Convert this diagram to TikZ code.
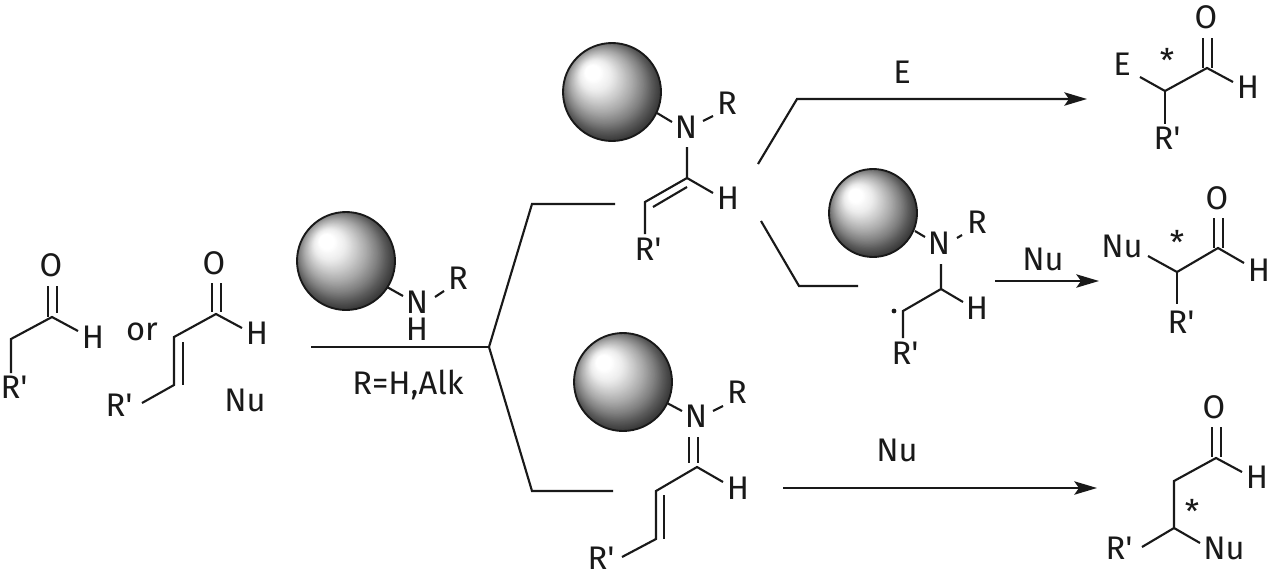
\documentclass[tikz,border=0pt]{standalone}
\usepackage{fontspec}
\setmainfont{Fira Sans}[Ligatures=TeXOff]
\usetikzlibrary{arrows.meta}
\definecolor{ink}{gray}{0.1}
\newcommand{\beadshade}[3]{%
  \begin{scope}
    \clip (#1,#2) circle[radius=#3*0.75pt];
    \foreach \i in {120,119,...,14}{%
      \pgfmathsetmacro{\rr}{\i/2}%
      \pgfmathsetmacro{\gv}{\rr<8?1:(\rr<16?1-(\rr-8)/8*0.07:(\rr<24?0.93-(\rr-16)/8*0.13:(\rr<32?0.80-(\rr-24)/8*0.14:(\rr<40?0.66-(\rr-32)/8*0.16:(\rr<46?0.50-(\rr-40)/6*0.14:(\rr<52?0.36-(\rr-46)/6*0.12:0.24-(\rr-52)/8*0.09))))))}%
      \definecolor{beadtone}{gray}{\gv}%
      \pgfmathsetmacro{\off}{-22.5*(1-\rr/60)*#3/50}%
      \pgfmathsetmacro{\cc}{\rr*#3/50*0.75}%
      \fill[beadtone] ({#1+\off},{#2+\off}) circle[radius=\cc pt];
    }
  \end{scope}}
\tikzset{
  bond/.style={line width=1.6pt,draw=ink,line join=miter},
  rxn/.style={bond,-{Stealth[length=17pt,width=10pt,inset=3.5pt]}},
  atom/.style={inner sep=0pt,text=ink,font=\fontsize{24.5}{26}\selectfont},
  beadball/.style={circle,draw=ink,line width=1.4pt,inner sep=0pt,minimum size=#1},
  beadball/.default=73.5pt
}
\begin{document}
\begin{tikzpicture}[x=0.75pt,y=-0.75pt]
\useasboundingbox (0,0) rectangle (1270,582);
\foreach \n/\x/\y in {
 % aldehyde 1
 a1d1/48/286,a1d2/48/317,a1d3/57/286,a1d4/57/313,a1c/52/317,a1h/78/331,a1b/11/339,a1r/11/373,
 % enal
 a2d1/212/283,a2d2/212/312,a2d3/221/283,a2d4/221/312,a2c/216/314,a2h/242/328,a2b/174/337,a2l/174/385,a2s1/183/342,a2s2/183/385,a2r/142/403,
 % amine
 b1e/387/287,b1n/403/296,b1s/435/297,b1t/444/291,
 % main line and fork
 m0/311/347,m1/489/347,fu1/532/204,fu2/615/204,fd1/532/491,fd2/613/491,
 % enamine
 e1e/657/113,e1n/672/122,e1s/703/121,e1t/713/116,e1a/687/147,e1c/687/178,e1h/713/193,e1l/645/202,e1i1/653/207,e1i2/687/187,e1r/645/234,
 % upper branches
 u0/758/164,u1/797/99,u2/1087/99,v0/761/221,v1/799/286,v2/858/286,
 % radical
 r1e/915/231,r1n/925/237,r1s/957/238,r1t/962/235,r1a/941/264,r1c/941/289,r1h/963/302,r1l/903/311,r1r/903/338,
 w0/995/281,w1/1099/281,
 % product E
 p1e/1140/77,p1c/1165/91,p1k/1207/68,p1h/1233/82,p1d1/1203/38,p1d2/1203/68,p1d3/1212/38,p1d4/1212/68,p1r/1165/124,
 % product Nu
 p2e/1148/256,p2c/1177/272,p2k/1218/248,p2h/1244/263,p2d1/1214/218,p2d2/1214/248,p2d3/1223/218,p2d4/1223/248,p2r/1177/304,
 % iminium
 i1e/667/403,i1n/682/411,i1s/713/411,i1t/723/406,i1d1/689/437,i1d2/689/463,i1d3/698/437,i1d4/698/463,i1c/697/467,i1h/723/482,i1l/656/491,i1m/656/539,i1s1/664/495,i1s2/664/539,i1r/622/557,
 x0/783/488,x1/1097/488,
 % product conjugate
 p3d1/1212/427,p3d2/1212/457,p3d3/1221/427,p3d4/1221/457,p3k/1216/458,p3h/1242/472,p3b/1174/481,p3c/1174/528,p3n/1200/543,p3r/1142/547
}{\coordinate (\n) at (\x,\y);}

% beads
\beadshade{346}{261}{49}
\beadshade{612}{92}{49}
\beadshade{873}{213}{44}
\beadshade{623}{382}{49}
\node[beadball] (bead1) at (346,261) {};
\node[beadball] (bead2) at (612,92) {};
\node[beadball=66pt] (bead3) at (873,213) {};
\node[beadball] (bead4) at (623,382) {};

% aldehyde 1
\node[atom] (t1) at (51,265) {O};
\node[atom] (t2) at (93,337) {H};
\node[atom] (t3) at (14,387) {R'};
\node[atom] (t4) at (142,332) {or};
\draw[bond] (a1d1) -- (a1d2);
\draw[bond] (a1d3) -- (a1d4);
\draw[bond] (a1h) -- (a1c) -- (a1b) -- (a1r);

% enal
\node[atom] (t5) at (214,263) {O};
\node[atom] (t6) at (257,333) {H};
\node[atom] (t7) at (119,405) {R'};
\node[atom] (t8) at (245,400) {Nu};
\draw[bond] (a2d1) -- (a2d2);
\draw[bond] (a2d3) -- (a2d4);
\draw[bond] (a2h) -- (a2c) -- (a2b) -- (a2l) -- (a2r);
\draw[bond] (a2s1) -- (a2s2);

% amine
\node[atom] (t9) at (417,302) {N};
\node[atom] (t10) at (417,329) {H};
\node[atom] (t11) at (458,278) {R};
\node[atom] (t12) at (408,385) {R=H,Alk};
\draw[bond] (b1e) -- (b1n);
\draw[bond] (b1s) -- (b1t);

% fork
\draw[bond] (m0) -- (m1);
\draw[bond] (fu2) -- (fu1) -- (m1) -- (fd1) -- (fd2);

% enamine
\node[atom] (t13) at (686,127) {N};
\node[atom] (t14) at (727,103) {R};
\node[atom] (t15) at (728,198) {H};
\node[atom] (t16) at (648,249) {R'};
\draw[bond] (e1e) -- (e1n);
\draw[bond] (e1s) -- (e1t);
\draw[bond] (e1a) -- (e1c) -- (e1h);
\draw[bond] (e1c) -- (e1l) -- (e1r);
\draw[bond] (e1i1) -- (e1i2);

% upper branches
\node[atom] (t17) at (902,72) {E};
\draw[rxn] (u0) -- (u1) -- (u2);
\draw[bond] (v0) -- (v1) -- (v2);

% radical
\node[atom] (t18) at (939,243) {N};
\node[atom] (t19) at (977,222) {R};
\node[atom] (t20) at (977,308) {H};
\node[atom] (t21) at (905,353) {R'};
\node[circle,fill=ink,inner sep=0pt,minimum size=3.6pt] (t22) at (894,311) {};
\draw[bond] (r1e) -- (r1n);
\draw[bond] (r1s) -- (r1t);
\draw[bond] (r1a) -- (r1c) -- (r1h);
\draw[bond] (r1c) -- (r1l) -- (r1r);
\node[atom] (t23) at (1043,259) {Nu};
\draw[rxn] (w0) -- (w1);

% product E
\node[atom] (t24) at (1122,64) {E};
\node[atom] (t25) at (1167,60) {*};
\node[atom] (t26) at (1206,17) {O};
\node[atom] (t27) at (1248,87) {H};
\node[atom] (t28) at (1167,138) {R'};
\draw[bond] (p1e) -- (p1c) -- (p1k) -- (p1h);
\draw[bond] (p1c) -- (p1r);
\draw[bond] (p1d1) -- (p1d2);
\draw[bond] (p1d3) -- (p1d4);

% product Nu
\node[atom] (t29) at (1122,246) {Nu};
\node[atom] (t30) at (1177,242) {*};
\node[atom] (t31) at (1217,198) {O};
\node[atom] (t32) at (1259,270) {H};
\node[atom] (t33) at (1181,322) {R'};
\draw[bond] (p2e) -- (p2c) -- (p2k) -- (p2h);
\draw[bond] (p2c) -- (p2r);
\draw[bond] (p2d1) -- (p2d2);
\draw[bond] (p2d3) -- (p2d4);

% iminium
\node[atom] (t34) at (696,416) {N};
\node[atom] (t35) at (737,392) {R};
\node[atom] (t36) at (738,488) {H};
\node[atom] (t37) at (601,558) {R'};
\draw[bond] (i1e) -- (i1n);
\draw[bond] (i1s) -- (i1t);
\draw[bond] (i1d1) -- (i1d2);
\draw[bond] (i1d3) -- (i1d4);
\draw[bond] (i1h) -- (i1c) -- (i1l) -- (i1m) -- (i1r);
\draw[bond] (i1s1) -- (i1s2);
\node[atom] (t38) at (897,450) {Nu};
\draw[rxn] (x0) -- (x1);

% conjugate product
\node[atom] (t39) at (1214,407) {O};
\node[atom] (t40) at (1257,477) {H};
\node[atom] (t41) at (1192,511) {*};
\node[atom] (t42) at (1119,548) {R'};
\node[atom] (t43) at (1224,548) {Nu};
\draw[bond] (p3d1) -- (p3d2);
\draw[bond] (p3d3) -- (p3d4);
\draw[bond] (p3h) -- (p3k) -- (p3b) -- (p3c) -- (p3n);
\draw[bond] (p3c) -- (p3r);
\end{tikzpicture}
\end{document}
